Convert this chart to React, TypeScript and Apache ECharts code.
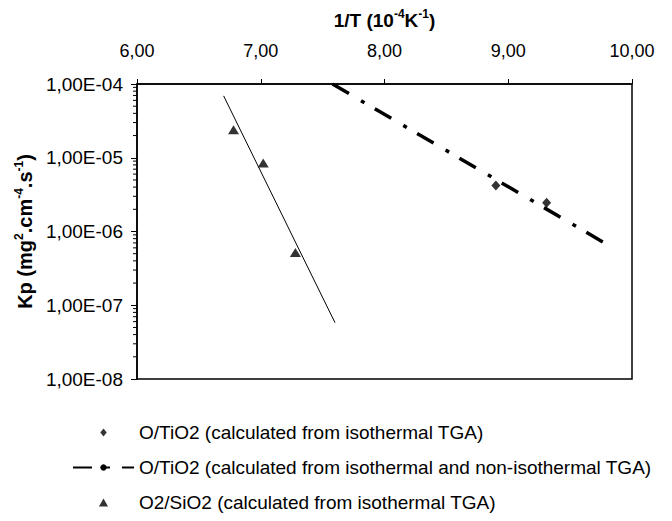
import React, { useEffect, useRef } from "react";
import * as echarts from "echarts";

// ---- data ----
const legendNames = [
  "O/TiO2 (calculated from isothermal TGA)",
  "O/TiO2 (calculated from isothermal and non-isothermal TGA)",
  "O2/SiO2 (calculated from isothermal TGA)",
];
const tioPointsX = [8.9, 9.31];
const tioPointsY = [4.2e-6, 2.45e-6];
const tioFitX = [7.58, 9.79];
const tioFitY = [1.0e-4, 6.8e-7];
const sioPointsX = [6.78, 7.02, 7.28];
const sioPointsY = [2.4e-5, 8.5e-6, 5.2e-7];
const sioFitX = [6.7, 7.6];
const sioFitY = [6.9e-5, 5.8e-8];
const xMin = 6;
const xMax = 10;
const yDecades = [-8, -7, -6, -5, -4];
const minorMultipliers = [2, 3, 4, 5, 6, 7, 8, 9];

const FONT = "'Liberation Sans', Arial, sans-serif";
const DIAMOND_ICON = "path://M4,0L8,5L4,10L0,5Z";
const TRIANGLE_ICON = "path://M4,0L8,7L0,7Z";

const zip = (xs: number[], ys: number[]) => xs.map((x, i) => [x, ys[i]]);

const richName = (size: number) => ({
  t: { fontSize: size, fontWeight: "bold", fontFamily: FONT, color: "#000", verticalAlign: "bottom", lineHeight: 22 },
  s: { fontSize: Math.round(size * 0.62), fontWeight: "bold", fontFamily: FONT, color: "#000", verticalAlign: "bottom", lineHeight: 12, padding: [0, 0, 10, 0] },
});

export default function App() {
  const ref = useRef<HTMLDivElement>(null);
  useEffect(() => {
    if (!ref.current) return;
    const chart = echarts.init(ref.current, undefined, { renderer: "svg" });
    const minorData: number[][] = [];
    yDecades.slice(0, -1).forEach((d) => {
      minorMultipliers.forEach((m) => minorData.push([xMin, m * Math.pow(10, d)]));
    });
    const option: any = {
      animation: false,
      backgroundColor: "#fff",
      grid: {
        left: 137,
        right: 40,
        top: 84,
        bottom: 142,
        show: true,
        borderColor: "#000",
        borderWidth: 1.5,
      },
      xAxis: {
        type: "value",
        position: "top",
        min: xMin,
        max: xMax,
        interval: 1,
        name: "{t|1/T (10}{s|-4}{t|K}{s|-1}{t|)}",
        nameLocation: "middle",
        nameGap: 54,
        nameTextStyle: { rich: richName(19) },
        axisLine: { show: true, lineStyle: { color: "#000", width: 1.5 } },
        axisTick: { show: true, inside: false, length: 5, lineStyle: { color: "#000", width: 1 } },
        axisLabel: {
          formatter: (v: number) => v.toFixed(2).replace(".", ","),
          margin: 24,
          fontSize: 18,
          color: "#000",
          fontFamily: FONT,
        },
        splitLine: { show: false },
      },
      yAxis: {
        type: "log",
        logBase: 10,
        min: Math.pow(10, yDecades[0]),
        max: Math.pow(10, yDecades[yDecades.length - 1]),
        name: "{t|Kp (mg}{s|2}{t|.cm}{s|-4}{t|.s}{s|-1}{t|)}",
        nameLocation: "middle",
        nameRotate: 90,
        nameGap: 100,
        nameTextStyle: { rich: richName(20) },
        axisLine: { show: true, lineStyle: { color: "#000", width: 1.5 } },
        axisTick: { show: true, inside: false, length: 6, lineStyle: { color: "#000", width: 1 } },
        minorTick: { show: false },
        axisLabel: {
          formatter: (v: number) => {
            const e = Math.round(Math.log10(v));
            const a = Math.abs(e);
            return "1,00E" + (e < 0 ? "-" : "+") + (a < 10 ? "0" + a : "" + a);
          },
          margin: 14,
          fontSize: 19,
          color: "#000",
          fontFamily: FONT,
        },
        splitLine: { show: false },
      },
      legend: {
        orient: "vertical",
        left: 72,
        top: 423,
        padding: 0,
        itemWidth: 61,
        itemHeight: 8,
        itemGap: 16,
        symbolKeepAspect: true,
        data: [
          { name: legendNames[0], icon: DIAMOND_ICON },
          { name: legendNames[1] },
          { name: legendNames[2], icon: TRIANGLE_ICON },
        ],
        textStyle: { fontSize: 19, color: "#000", fontFamily: FONT },
      },
      series: [
        {
          name: "minor ticks",
          type: "custom",
          silent: true,
          clip: false,
          data: minorData,
          renderItem: (params: any, api: any) => {
            const p = api.coord([api.value(0), api.value(1)]);
            return {
              type: "line",
              shape: { x1: p[0] - 4, y1: p[1], x2: p[0], y2: p[1] },
              style: { stroke: "#000", lineWidth: 1 },
            };
          },
        },
        {
          name: legendNames[1],
          type: "line",
          data: zip(tioFitX, tioFitY),
          symbol: "none",
          lineStyle: { color: "#000", width: 3.5, type: [19, 14, 4, 12], cap: "butt" },
          itemStyle: { color: "#000" },
        },
        {
          name: "SiO2 fit",
          type: "line",
          data: zip(sioFitX, sioFitY),
          symbol: "none",
          lineStyle: { color: "#000", width: 1 },
          itemStyle: { color: "#000" },
        },
        {
          name: legendNames[0],
          type: "scatter",
          data: zip(tioPointsX, tioPointsY),
          symbol: "diamond",
          symbolSize: [9, 10],
          itemStyle: { color: "#000" },
        },
        {
          name: legendNames[2],
          type: "scatter",
          data: zip(sioPointsX, sioPointsY),
          symbol: "triangle",
          symbolSize: [11, 9],
          itemStyle: { color: "#000" },
        },
      ],
    };
    chart.setOption(option);
    return () => chart.dispose();
  }, []);
  return (
    <div
      ref={ref}
      style={{ position: "fixed", left: 0, top: 0, width: 672, height: 521, background: "#fff" }}
    />
  );
}
